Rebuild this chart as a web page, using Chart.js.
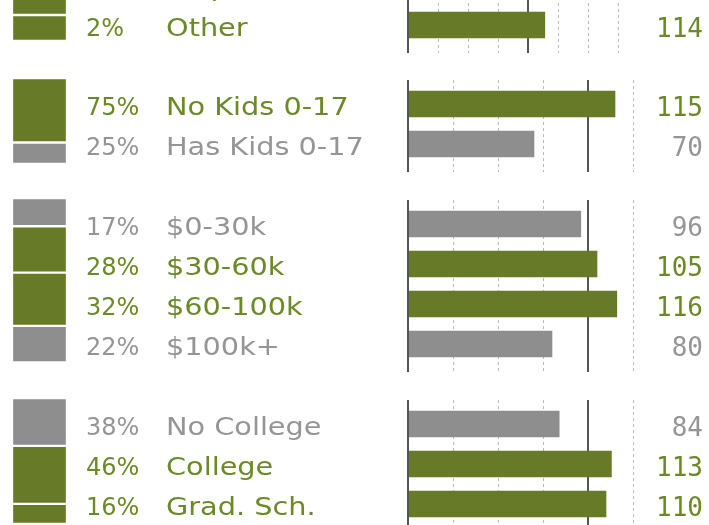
<!DOCTYPE html>
<html>
<head>
<meta charset="utf-8">
<script src="https://cdn.jsdelivr.net/npm/chart.js@4.4.1/dist/chart.umd.min.js"></script>
<style>
  body { margin: 0; background: #fff; overflow: hidden; }
  #wrap { position: relative; width: 709px; height: 525px; overflow: hidden; }
  #wrap canvas { position: absolute; }
</style>
</head>
<body>
<div id="wrap"></div>
<script>
// Audience composition (share %) and index vs. average (100)
const ethnicityLabels = ['Hispanic', 'Other'];
const ethnicityShares = [9, 2];
const ethnicityIndex = [108, 114];

const kidsLabels = ['No Kids 0-17', 'Has Kids 0-17'];
const kidsShares = [75, 25];
const kidsIndex = [115, 70];

const incomeLabels = ['$0-30k', '$30-60k', '$60-100k', '$100k+'];
const incomeShares = [17, 28, 32, 22];
const incomeIndex = [96, 105, 116, 80];

const educationLabels = ['No College', 'College', 'Grad. Sch.'];
const educationShares = [38, 46, 16];
const educationIndex = [84, 113, 110];

const indexTicks = [0, 25, 50, 75, 100, 125, 150, 175];

const GREEN = '#667a28';
const GRAY = '#8e8e8e';
const GREEN_TEXT = '#6b8a26';
const GRAY_TEXT = '#959595';

const ROW = 40;
const wrap = document.getElementById('wrap');

function makeCanvas(left, top, w, h) {
  const c = document.createElement('canvas');
  c.width = w;
  c.height = h;
  c.style.left = left + 'px';
  c.style.top = top + 'px';
  c.style.width = w + 'px';
  c.style.height = h + 'px';
  wrap.appendChild(c);
  return c;
}

const above = (v) => v > 100;

// dotted guides under the bars, solid lines at 0 and 100
const indexGrid = {
  id: 'indexGrid',
  beforeDatasetsDraw(chart) {
    const {ctx, chartArea, scales} = chart;
    ctx.save();
    indexTicks.forEach(t => {
      if (t > scales.x.max || t === 0) return;
      const x = Math.round(scales.x.getPixelForValue(t));
      ctx.beginPath();
      if (t === 100) {
        ctx.strokeStyle = '#555';
        ctx.lineWidth = 2;
        ctx.setLineDash([]);
        ctx.moveTo(x, chartArea.top);
        ctx.lineTo(x, chartArea.bottom);
      } else {
        ctx.strokeStyle = '#b9b9b9';
        ctx.lineWidth = 1;
        ctx.setLineDash([3, 3]);
        ctx.moveTo(x + 0.5, chartArea.top);
        ctx.lineTo(x + 0.5, chartArea.bottom);
      }
      ctx.stroke();
    });
    ctx.restore();
  },
  afterDatasetsDraw(chart) {
    const {ctx, chartArea, scales} = chart;
    const x = Math.round(scales.x.getPixelForValue(0));
    ctx.save();
    ctx.strokeStyle = '#555';
    ctx.lineWidth = 2;
    ctx.beginPath();
    ctx.moveTo(x, chartArea.top);
    ctx.lineTo(x, chartArea.bottom);
    ctx.stroke();
    ctx.restore();
  }
};

// percent + name on the left, index value on the right
const rowText = {
  id: 'rowText',
  afterDraw(chart) {
    const {ctx, scales} = chart;
    const g = chart.options.plugins.rowText;
    ctx.save();
    g.labels.forEach((name, i) => {
      const y = scales.y.getPixelForValue(i);
      ctx.fillStyle = above(g.index[i]) ? GREEN_TEXT : GRAY_TEXT;
      ctx.textBaseline = 'alphabetic';
      ctx.textAlign = 'left';

      ctx.font = '24px "DejaVu Sans"';
      ctx.fillText(g.shares[i] + '%', 86, y + 11);

      // category names are set in a wide face
      ctx.save();
      ctx.font = '25px "DejaVu Sans"';
      ctx.translate(166, y + 11);
      ctx.scale(1.15, 1);
      ctx.fillText(name, 0, 0);
      ctx.restore();

      ctx.font = '26px "DejaVu Sans Mono"';
      ctx.textAlign = 'right';
      ctx.fillText(String(g.index[i]), 703, y + 12);
    });
    ctx.restore();
  }
};

function indexChart(labels, shares, index, firstCenter, xMax, pxPerUnit) {
  const n = labels.length;
  const top = firstCenter - 24;
  const h = (n + 0.3) * ROW;
  const canvas = makeCanvas(0, top, 709, h);
  const right = 408 + xMax * pxPerUnit;
  return new Chart(canvas.getContext('2d'), {
    type: 'bar',
    data: {
      datasets: [{
        data: index.map((v, i) => ({x: v, y: i})),
        backgroundColor: index.map(v => above(v) ? GREEN : GRAY),
        borderWidth: 0,
        barThickness: 26
      }]
    },
    options: {
      indexAxis: 'y',
      responsive: false,
      animation: false,
      layout: {padding: {left: 408, right: 709 - right, top: 0, bottom: 0}},
      scales: {
        x: {type: 'linear', min: 0, max: xMax, display: false, offset: false},
        y: {type: 'linear', min: -0.6, max: n - 0.3, reverse: true, display: false, offset: false}
      },
      plugins: {
        legend: {display: false},
        tooltip: {enabled: false},
        rowText: {labels, shares, index}
      }
    },
    plugins: [indexGrid, rowText]
  });
}

// stacked composition block at the far left
function shareBlock(shares, index, top, h, total) {
  const canvas = makeCanvas(12, top, 55, h);
  return new Chart(canvas.getContext('2d'), {
    type: 'bar',
    data: {
      labels: [''],
      datasets: shares.map((s, i) => ({
        data: [s],
        backgroundColor: above(index[i]) ? GREEN : GRAY,
        borderColor: '#fff',
        borderWidth: 1.5,
        borderSkipped: false,
        barPercentage: 1,
        categoryPercentage: 1
      }))
    },
    options: {
      responsive: false,
      animation: false,
      layout: {padding: 0},
      scales: {
        x: {stacked: true, display: false},
        y: {stacked: true, min: 0, max: total, reverse: true, display: false}
      },
      plugins: {legend: {display: false}, tooltip: {enabled: false}}
    }
  });
}

const sum = a => a.reduce((s, v) => s + v, 0);

indexChart(ethnicityLabels, ethnicityShares, ethnicityIndex, -15, 175, 1.2);
indexChart(kidsLabels, kidsShares, kidsIndex, 104, 125, 1.8);
indexChart(incomeLabels, incomeShares, incomeIndex, 224, 125, 1.8);
indexChart(educationLabels, educationShares, educationIndex, 424, 125, 1.8);

shareBlock(ethnicityShares, ethnicityIndex, -102, 143, sum(ethnicityShares));
shareBlock(kidsShares, kidsIndex, 78, kidsShares.length * ROW + 6, 100);
shareBlock(incomeShares, incomeIndex, 198, incomeShares.length * ROW + 6, 100);
shareBlock(educationShares, educationIndex, 398, educationShares.length * ROW + 6, 100);
</script>
</body>
</html>
